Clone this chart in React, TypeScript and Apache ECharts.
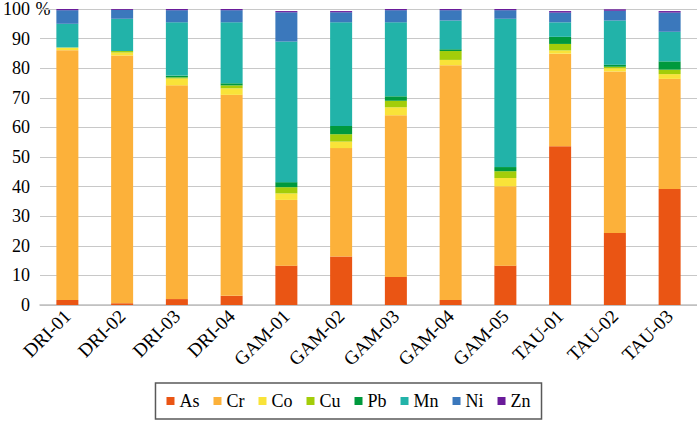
import React, { useEffect, useRef } from "react";
import * as echarts from "echarts";

const categories = ["DRI-01", "DRI-02", "DRI-03", "DRI-04", "GAM-01", "GAM-02", "GAM-03", "GAM-04", "GAM-05", "TAU-01", "TAU-02", "TAU-03"];
const seriesNames = ["As", "Cr", "Co", "Cu", "Pb", "Mn", "Ni", "Zn"];
const asV = [1.7, 0.6, 2.0, 3.1, 13.3, 16.4, 9.5, 1.7, 13.3, 53.6, 24.3, 39.2];
const crV = [84.4, 83.7, 72.2, 67.9, 22.2, 36.6, 54.6, 79.3, 26.8, 31.3, 54.6, 37.2];
const coV = [0.9, 1.0, 2.3, 2.2, 2.2, 2.2, 2.7, 1.8, 2.8, 1.1, 1.1, 1.6];
const cuV = [0, 0.5, 0.4, 1.0, 2.1, 2.5, 2.2, 3.0, 2.3, 2.2, 0.5, 1.5];
const pbV = [0, 0, 0.6, 0.7, 1.7, 2.8, 1.5, 0.6, 1.4, 2.4, 0.7, 2.8];
const mnV = [8.0, 10.9, 18.0, 20.6, 47.5, 35.0, 25.0, 9.7, 50.1, 4.9, 14.9, 10.0];
const niV = [4.6, 3.0, 4.1, 4.1, 9.9, 3.4, 4.1, 3.5, 2.9, 3.3, 3.3, 6.5];
const znV = [0.4, 0.3, 0.4, 0.4, 0.4, 0.4, 0.4, 0.4, 0.4, 0.5, 0.5, 0.5];
const yTicks = { min: 0, max: 100, interval: 10 };

const values = [asV, crV, coV, cuV, pbV, mnV, niV, znV];
const colors = ["#EA5514", "#FCB13A", "#F9E339", "#A3CD0A", "#00993D", "#22B3A9", "#3B78BC", "#6A1B9A"];
const FONT = "Liberation Serif";

export default function App() {
  const ref = useRef<HTMLDivElement>(null);
  useEffect(() => {
    if (!ref.current) return;
    const chart = echarts.init(ref.current, null, { renderer: "svg" });
    chart.setOption({
      animation: false,
      backgroundColor: "#ffffff",
      textStyle: { fontFamily: FONT, fontSize: 18 },
      grid: { left: 35, right: 0, top: 7, bottom: 120, containLabel: false },
      legend: {
        data: seriesNames,
        left: "center",
        top: 383,
        itemWidth: 8,
        itemHeight: 8,
        itemGap: 14,
        padding: [9, 11],
        borderColor: "#595959",
        borderWidth: 1.5,
        icon: "rect",
        textStyle: { fontFamily: FONT, fontSize: 18, color: "#000" },
      },
      xAxis: {
        type: "category",
        data: categories,
        axisTick: { show: false },
        axisLine: { lineStyle: { color: "#BFBFBF", width: 1.5 } },
        axisLabel: {
          rotate: 45,
          interval: 0,
          margin: 8,
          fontFamily: FONT,
          fontSize: 19,
          color: "#000",
        },
      },
      yAxis: {
        type: "value",
        min: yTicks.min,
        max: yTicks.max,
        interval: yTicks.interval,
        axisLine: { show: false },
        axisTick: { show: false },
        splitLine: { lineStyle: { color: "#C8C8C8", width: 1 } },
        axisLabel: { margin: 10, fontFamily: FONT, fontSize: 18, color: "#000" },
      },
      graphic: [
        {
          type: "text",
          x: 31,
          y: 0,
          style: { text: " %", fontFamily: FONT, fontSize: 18, fill: "#000", verticalAlign: "top", align: "left" },
        },
      ],
      series: seriesNames.map((name, i) => ({
        name,
        type: "bar",
        stack: "total",
        barWidth: 22,
        data: values[i],
        itemStyle: { color: colors[i] },
      })),
    });
    return () => chart.dispose();
  }, []);
  return <div ref={ref} style={{ position: "fixed", left: 0, top: 0, width: 697, height: 425 }} />;
}
